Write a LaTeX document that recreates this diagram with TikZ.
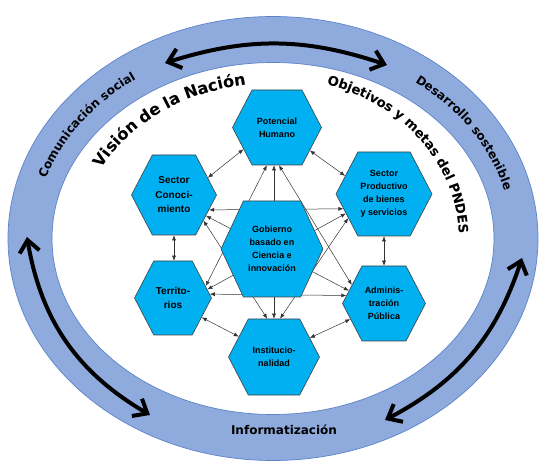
\documentclass[tikz,border=0pt]{standalone}
\usepackage{fontspec}
\setmainfont{Liberation Sans}
\newfontfamily\ringfont{DejaVu Sans}
\usetikzlibrary{arrows.meta, shapes.symbols, decorations.text, calc}

\definecolor{hexblue}{HTML}{00B0F0}
\definecolor{bandblue}{HTML}{8FAADC}
\definecolor{bandedge}{HTML}{5B84C9}

\begin{document}
\begin{tikzpicture}[x=1pt, y=1pt,
  hexa/.style={signal, signal to=east and west, signal pointer angle=125,
    fill=hexblue, draw=black!75, line width=0.6pt, align=center, inner sep=0pt,
    font=\bfseries\fontsize{9}{13}\selectfont},
  bighexa/.style={hexa, font=\bfseries\fontsize{10}{14.5}\selectfont},
  link/.style={{Latex[length=5pt,width=4pt]}-{Latex[length=5pt,width=4pt]}, line width=0.5pt, black!80},
  bigarr/.style={{Straight Barb[length=12pt,width=20pt]}-{Straight Barb[length=12pt,width=20pt]}, line width=4pt},
  ringtext/.style={decorate, decoration={text along path, text align=center, text={#1}}}]

  \useasboundingbox (0,0) rectangle (550,475);
  \coordinate (c) at (273,236.5);

  % ---- Ring ----
  \fill[bandblue, even odd rule] (c) ellipse[x radius=265, y radius=222]
    (c) ellipse[x radius=221, y radius=176];
  \draw[bandedge, line width=0.7pt] (c) ellipse[x radius=265, y radius=222];
  \draw[bandedge, line width=0.7pt] (c) ellipse[x radius=221, y radius=176];

  % Big arrows
  \coordinate (tl) at (165,412);
  \coordinate (tr) at (387,410);
  \coordinate (lu) at (27,238);
  \coordinate (ld) at (150,60);
  \coordinate (ru) at (522,217);
  \coordinate (rd) at (385,55);
  \draw[bigarr] (tl) to[bend left=18] (tr);
  \draw[bigarr] (lu) to[bend right=25] (ld);
  \draw[bigarr] (ru) to[bend left=22] (rd);

  % Ring labels
  \path[ringtext={|\ringfont\bfseries\fontsize{12}{12}\selectfont|Comunicación social}]
    ($(c)+(175:238.5 and 194.5)$) arc[start angle=175, end angle=114, x radius=238.5, y radius=194.5];
  \path[ringtext={|\ringfont\bfseries\fontsize{12}{12}\selectfont|Desarrollo sostenible}]
    ($(c)+(63:238.5 and 194.5)$) arc[start angle=63, end angle=3, x radius=238.5, y radius=194.5];
  \node[font=\ringfont\bfseries\fontsize{12}{12}\selectfont] (info) at (284,45) {Informatización};

  % Inner labels (with shadow)
  \path[shift={(1.2,-1.2)}, decorate, decoration={text along path, text align=center, text color=black!40,
      text={|\ringfont\bfseries\fontsize{16}{16}\selectfont|Visión de la Nación}}]
    ($(c)+(170:192 and 155)$) arc[start angle=170, end angle=84, x radius=192, y radius=155];
  \path[ringtext={|\ringfont\bfseries\fontsize{16}{16}\selectfont|Visión de la Nación}]
    ($(c)+(170:192 and 155)$) arc[start angle=170, end angle=84, x radius=192, y radius=155];
  \path[shift={(1.2,-1.2)}, decorate, decoration={text along path, text align=center, text color=black!40,
      text={|\ringfont\bfseries\fontsize{13}{13}\selectfont|Objetivos y metas del PNDES}}]
    ($(c)+(80:186 and 161)$) arc[start angle=80, end angle=-6, x radius=186, y radius=161];
  \path[ringtext={|\ringfont\bfseries\fontsize{13}{13}\selectfont|Objetivos y metas del PNDES}]
    ($(c)+(80:186 and 161)$) arc[start angle=80, end angle=-6, x radius=186, y radius=161];

  % ---- Hexagons ----
  \node[hexa, minimum width=89pt, minimum height=75pt] (ph) at (277,347.5) {Potencial\\Humano};
  \node[bighexa, minimum width=85pt, minimum height=80pt] (sc) at (174,280) {Sector\\Conoci-\\miento};
  \node[hexa, minimum width=96pt, minimum height=84pt] (sp) at (384,281) {Sector\\Productivo\\de bienes\\y servicios};
  \node[bighexa, minimum width=77pt, minimum height=74pt] (terr) at (173,177) {Territo-\\rios};
  \node[hexa, minimum width=83pt, minimum height=75pt] (ap) at (384,171.5) {Adminis-\\tración\\Pública};
  \node[hexa, minimum width=91pt, minimum height=76pt] (inst) at (274,118) {Institucio-\\nalidad};

  % neighbours
  \draw[link] (ph.213) -- (sc.27);
  \draw[link] (ph.325) -- (sp.155);
  \draw[link] (sc.south) -- (sc.south |- terr.north);
  \draw[link] (sp.south) -- (ap.north);
  \draw[link] (terr.-34) -- (inst.150);
  \draw[link] (ap.205) -- (inst.28);

  % across the centre
  \draw[link] (sc.-23) -- (sp.200);
  \draw[link] (sc.-33) -- (ap.160);
  \draw[link] (sc.-41) -- (inst.100);
  \draw[link] (terr.20) -- (ph.255);
  \draw[link] (terr.14) -- (sp.207);
  \draw[link] (terr.6) -- (ap.168);
  \draw[link] (ap.150) -- (ph.273);
  \draw[link] (inst.north) -- (inst.north |- ph.south);
  \draw[link] (inst.81) -- (sp.214);

  \node[hexa, signal pointer angle=130, minimum width=102pt, minimum height=96pt] (gob) at (272,226)
    {Gobierno\\basado en\\Ciencia e\\innovación};

\end{tikzpicture}
\end{document}
